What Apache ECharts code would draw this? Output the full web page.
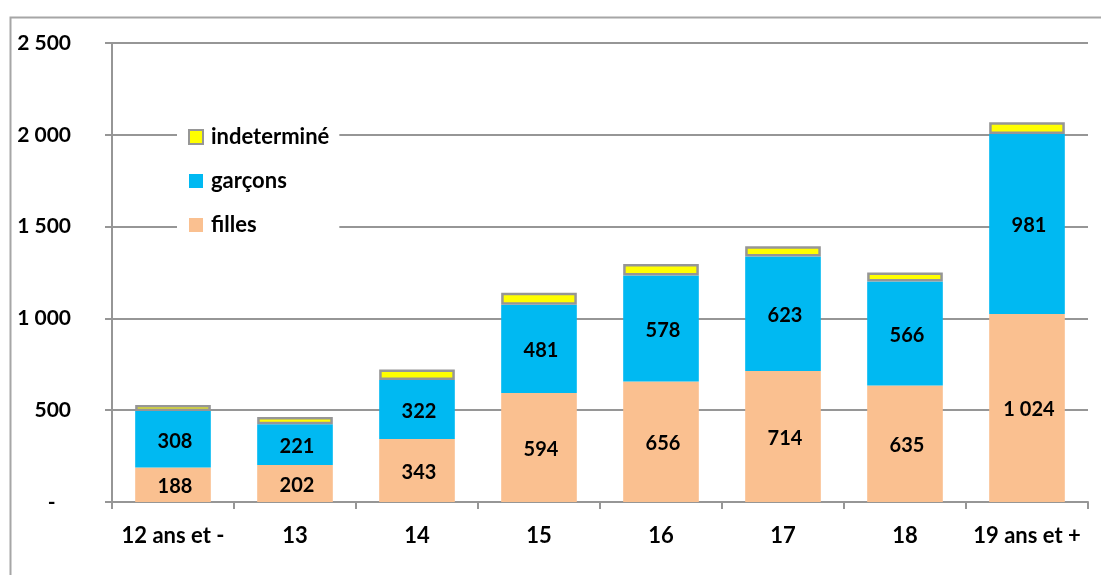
<!DOCTYPE html>
<html>
<head>
<meta charset="utf-8">
<script src="https://cdn.jsdelivr.net/npm/echarts@6/dist/echarts.min.js"></script>
<style>html,body{margin:0;padding:0;background:#fff;}#c{width:1101px;height:575px;}</style>
</head>
<body>
<div id="c"></div>
<script>
const categories = ['12 ans et -', '13', '14', '15', '16', '17', '18', '19 ans et +'];
const filles = [188, 202, 343, 594, 656, 714, 635, 1024];
const garcons = [308, 221, 322, 481, 578, 623, 566, 981];
const indetermine = [32, 40, 56, 65, 62, 56, 49, 63];
const yTicks = { min: 0, max: 2500, interval: 500 };

function fmt(v) {
  if (v === 0) return '-   ';
  return String(v).replace(/\B(?=(\d{3})+(?!\d))/g, ' ');
}

const FONT = 'Lato';
const FS = 20;
const GRAY = '#969696';
const chart = echarts.init(document.getElementById('c'), null, { renderer: 'canvas' });
const labelStyle = {
  show: true, position: 'inside', offset: [2, 2], color: '#000', fontFamily: FONT, fontWeight: 'bold', fontSize: FS,
  formatter: p => fmt(p.value)
};
chart.setOption({
  animation: false,
  backgroundColor: '#fff',
  graphic: [{
    type: 'rect', left: 8, top: 15, silent: true, z: -1,
    shape: { width: 1200, height: 700 },
    style: { fill: 'none', stroke: '#a6a6a6', lineWidth: 2 }
  }],
  grid: { left: 112, right: 13, top: 43, bottom: 73 },
  legend: {
    orient: 'vertical', left: 177, top: 118, padding: [8, 10, 10, 11],
    backgroundColor: '#fff', z: 10,
    itemWidth: 14, itemHeight: 14, itemGap: 22,
    icon: 'rect',
    data: ['indeterminé', 'garçons', 'filles'],
    textStyle: { fontFamily: FONT, fontWeight: 'bold', fontSize: 22, color: '#000', padding: [0, 0, 0, 3] }
  },
  xAxis: {
    type: 'category', data: categories,
    axisLine: { lineStyle: { color: GRAY, width: 2 } },
    axisTick: { show: true, length: 7, lineStyle: { color: GRAY, width: 2 } },
    axisLabel: { interval: 0, margin: 23, color: '#000', fontFamily: FONT, fontWeight: 'bold', fontSize: 22 }
  },
  yAxis: {
    type: 'value', min: yTicks.min, max: yTicks.max, interval: yTicks.interval,
    axisLine: { show: true, lineStyle: { color: GRAY, width: 2 } },
    axisTick: { show: true, length: 7, lineStyle: { color: GRAY, width: 2 } },
    splitLine: { lineStyle: { color: GRAY, width: 2 } },
    axisLabel: { margin: 41, color: '#000', fontFamily: FONT, fontWeight: 'bold', fontSize: 21, formatter: fmt }
  },
  series: [
    { name: 'filles', type: 'bar', stack: 't', data: filles, barWidth: '62%',
      itemStyle: { color: '#FAC090' }, label: labelStyle },
    { name: 'garçons', type: 'bar', stack: 't', data: garcons, barWidth: '62%',
      itemStyle: { color: '#00B9F2' }, label: labelStyle },
    { name: 'indeterminé', type: 'bar', stack: 't', data: indetermine, barWidth: '62%',
      itemStyle: { color: '#FFFF00', borderColor: GRAY, borderWidth: 2.5 }, label: { show: false } }
  ]
});
</script>
</body>
</html>
